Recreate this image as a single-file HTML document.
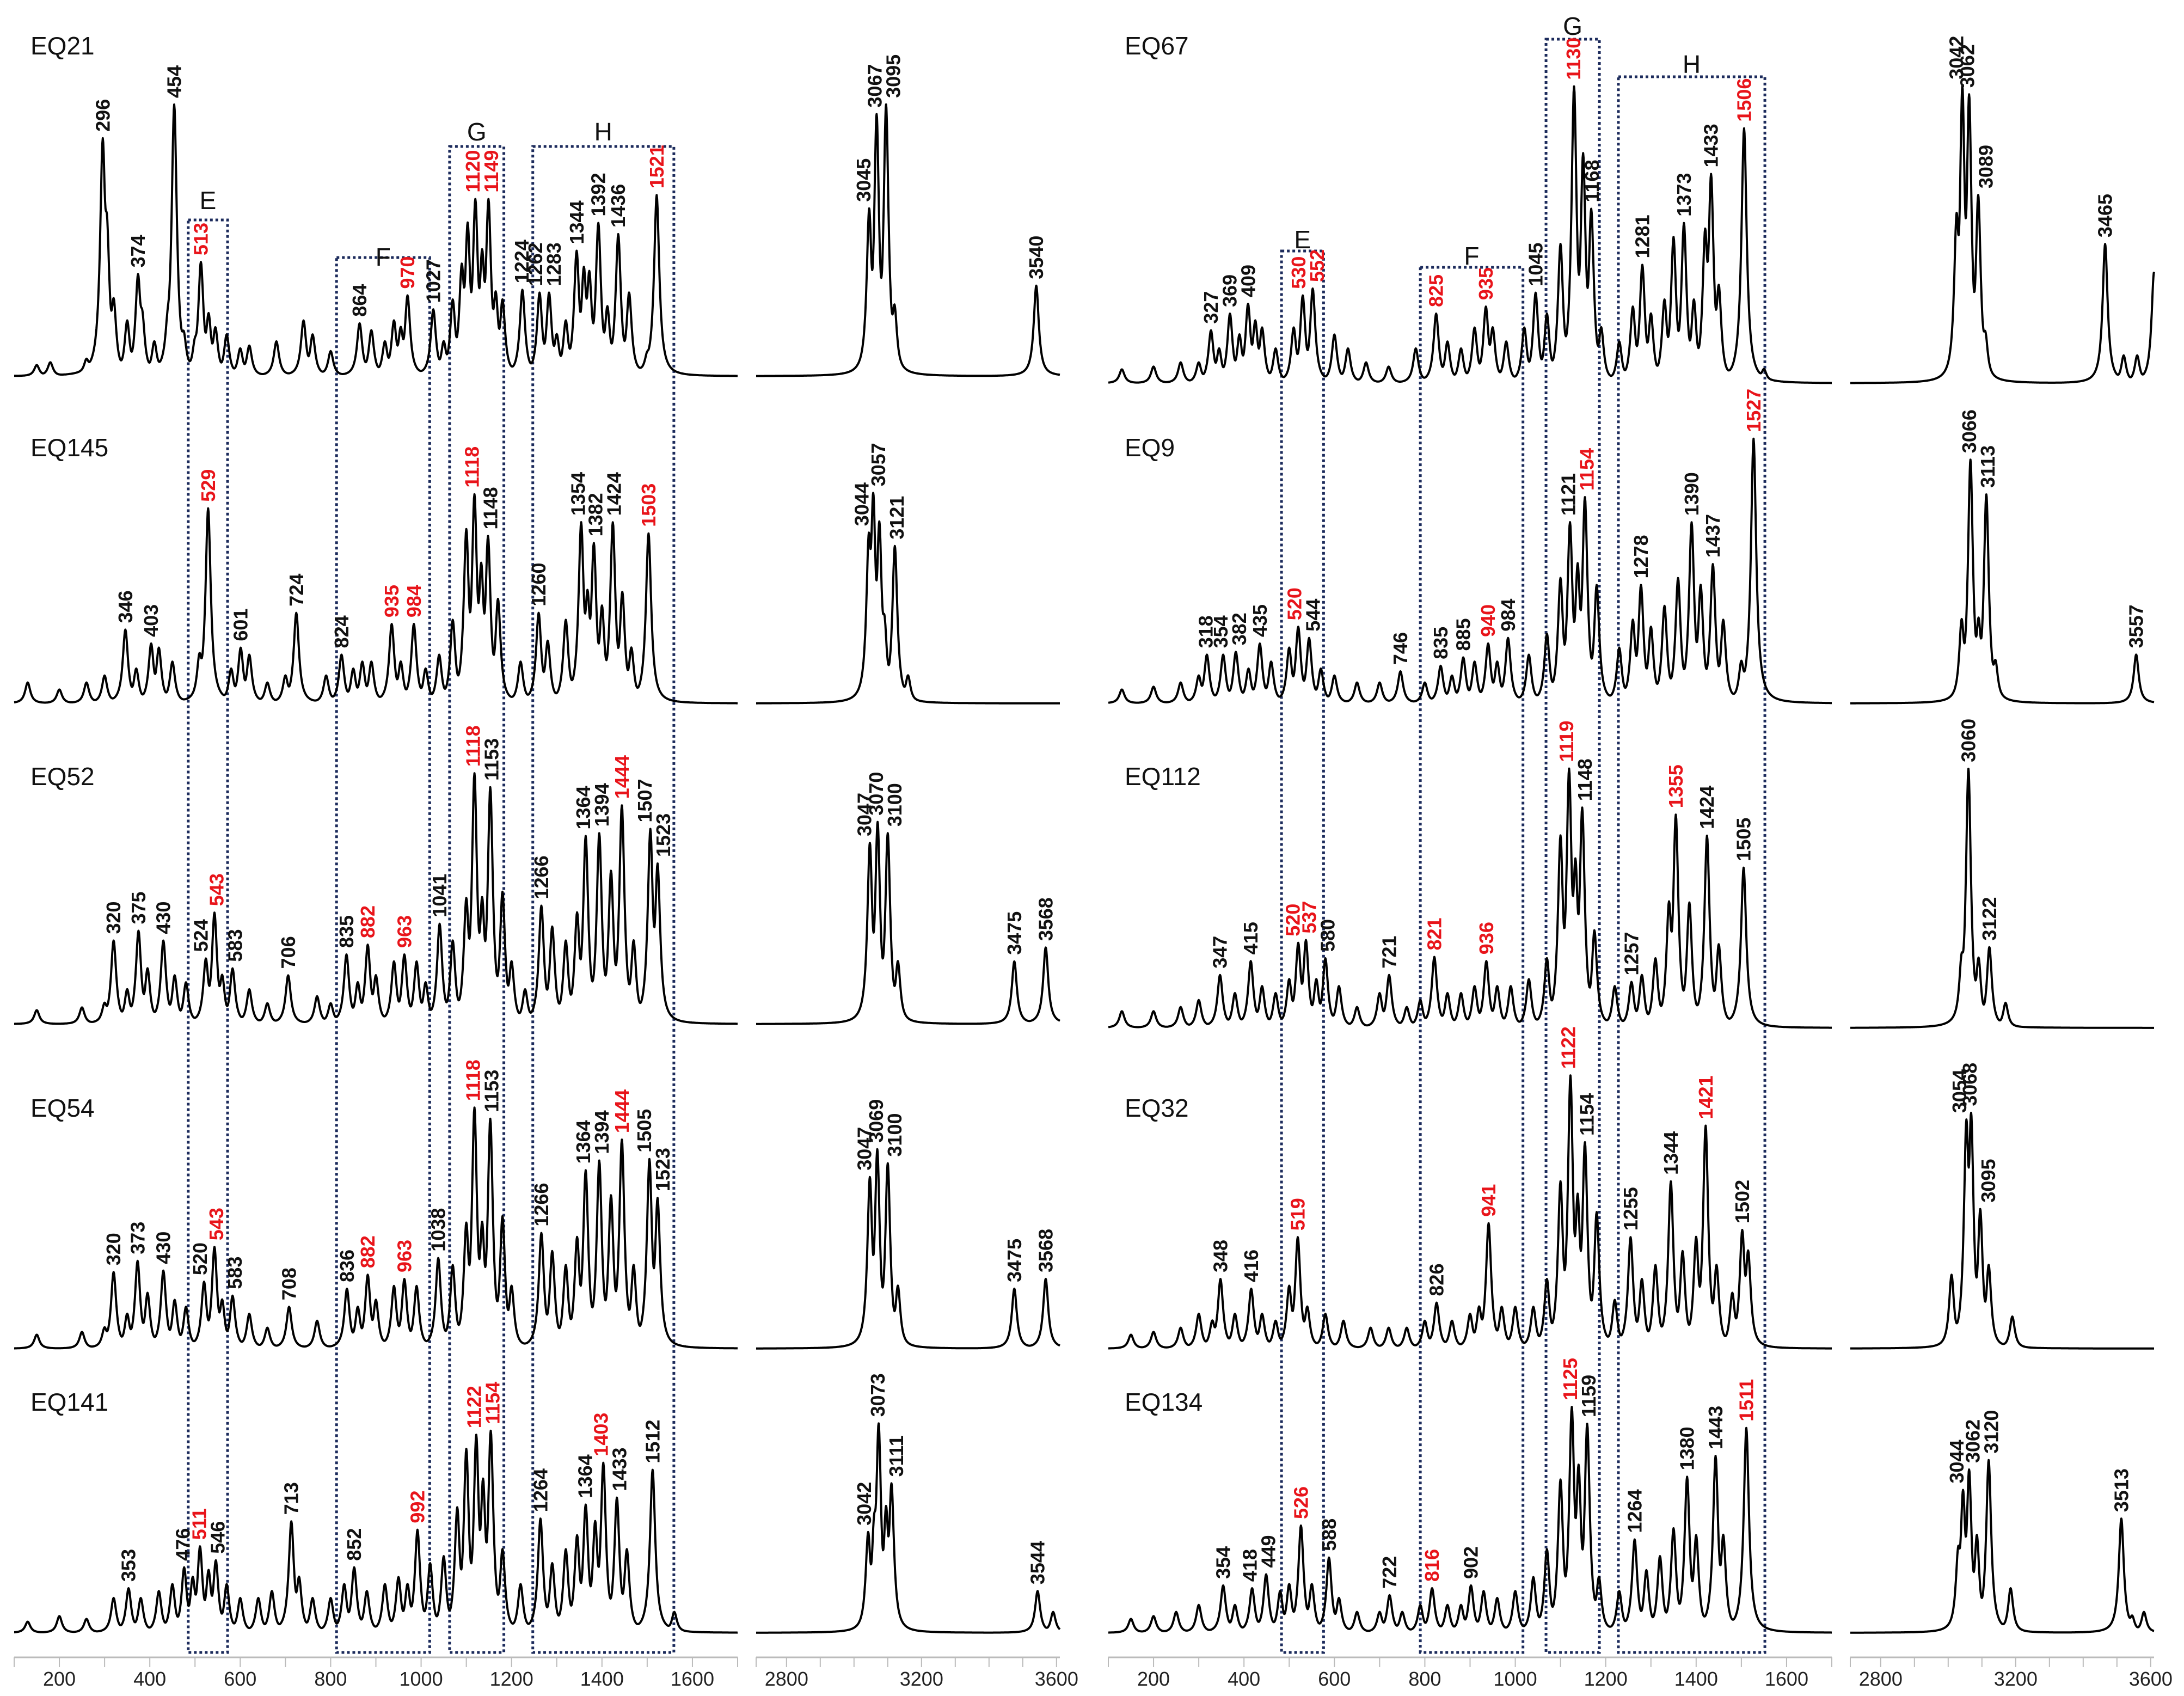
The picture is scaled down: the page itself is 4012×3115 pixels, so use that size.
<!DOCTYPE html>
<html><head><meta charset="utf-8"><style>
html,body{margin:0;padding:0;background:#fff}
svg{display:block}
text{font-family:"Liberation Sans",sans-serif}
</style></head><body>
<svg id="chart" xmlns="http://www.w3.org/2000/svg" width="4012" height="3115" viewBox="0 0 4012 3115"></svg>
<script>
// ---- data: peaks [wavenumber, relative intensity, labelType(0 none,1 black,2 red)]
const EQ21=[[150,8,0],[180,10,0],[260,12,0],[296,170,1],[305,110,0],[320,55,0],[350,40,0],[374,73,1],[383,45,0],[410,25,0],[440,40,0],[454,195,1],[475,30,0],[500,25,0],[513,82,2],[530,45,0],[545,35,0],[570,30,0],[600,20,0],[620,22,0],[680,25,0],[740,40,0],[760,30,0],[800,18,0],[864,38,1],[890,33,0],[920,25,0],[940,40,0],[955,35,0],[970,58,2],[1027,48,1],[1050,25,0],[1070,55,0],[1090,80,0],[1103,110,0],[1120,127,2],[1135,90,0],[1149,127,2],[1165,60,0],[1180,55,0],[1224,62,1],[1262,60,1],[1283,60,1],[1300,30,0],[1320,40,0],[1344,90,1],[1360,78,0],[1372,75,0],[1392,110,1],[1412,50,0],[1436,102,1],[1460,60,0],[1500,15,0],[1521,130,2],[3045,120,1],[3067,188,1],[3095,195,1],[3120,50,0],[3540,65,1]];
const EQ145=[[130,15,0],[200,10,0],[260,15,0],[300,20,0],[346,53,1],[370,25,0],[403,43,1],[420,40,0],[450,30,0],[510,35,0],[529,140,2],[580,25,0],[601,40,1],[620,35,0],[660,15,0],[700,20,0],[724,65,1],[790,20,0],[824,35,1],[850,25,0],[870,30,0],[890,30,0],[935,57,2],[955,30,0],[984,57,2],[1010,25,0],[1040,35,0],[1070,60,0],[1100,125,0],[1118,150,2],[1133,100,0],[1148,120,1],[1170,75,0],[1220,30,0],[1260,65,1],[1280,45,0],[1320,60,0],[1354,130,1],[1368,80,0],[1382,115,1],[1400,70,0],[1424,130,1],[1445,80,0],[1465,40,0],[1503,122,2],[3044,120,1],[3057,150,1],[3075,130,0],[3090,60,0],[3121,113,1],[3160,20,0]];
const EQ52=[[150,10,0],[250,12,0],[300,15,0],[320,60,1],[350,25,0],[375,67,1],[395,40,0],[430,60,1],[455,35,0],[480,30,0],[524,47,1],[543,80,2],[560,35,0],[583,40,1],[620,25,0],[660,15,0],[706,35,1],[770,20,0],[800,15,0],[835,50,1],[860,30,0],[882,57,2],[900,35,0],[940,45,0],[963,50,2],[990,45,0],[1010,30,0],[1041,72,1],[1070,60,0],[1100,90,0],[1118,180,2],[1135,90,0],[1153,170,1],[1180,95,0],[1200,45,0],[1230,25,0],[1266,85,1],[1290,70,0],[1320,60,0],[1345,80,0],[1364,135,1],[1394,137,1],[1420,110,0],[1444,157,2],[1470,60,0],[1507,140,1],[1523,115,1],[3047,130,1],[3070,145,1],[3100,137,1],[3130,45,0],[3475,45,1],[3568,55,1]];
const EQ54=[[150,10,0],[250,12,0],[300,15,0],[320,55,1],[350,25,0],[373,63,1],[395,40,0],[430,56,1],[455,35,0],[480,30,0],[520,48,1],[543,73,2],[560,35,0],[583,38,1],[620,25,0],[660,15,0],[708,30,1],[770,20,0],[836,43,1],[860,30,0],[882,53,2],[900,35,0],[940,45,0],[963,50,2],[990,45,0],[1038,65,1],[1070,60,0],[1100,90,0],[1118,173,2],[1135,90,0],[1153,165,1],[1180,95,0],[1200,45,0],[1266,83,1],[1290,70,0],[1320,60,0],[1345,80,0],[1364,128,1],[1394,135,1],[1420,110,0],[1444,150,2],[1470,60,0],[1505,136,1],[1523,108,1],[3047,123,1],[3069,143,1],[3100,133,1],[3130,45,0],[3475,43,1],[3568,50,1]];
const EQ141=[[130,8,0],[200,12,0],[260,10,0],[320,25,0],[353,32,1],[380,25,0],[420,30,0],[450,35,0],[476,47,1],[495,40,0],[511,62,2],[530,45,0],[546,52,1],[570,35,0],[600,25,0],[640,25,0],[670,30,0],[713,80,1],[730,40,0],[760,25,0],[800,25,0],[830,35,0],[852,47,1],[880,30,0],[920,35,0],[950,40,0],[970,35,0],[992,74,2],[1020,50,0],[1050,55,0],[1080,90,0],[1100,132,0],[1122,142,2],[1137,110,0],[1154,145,2],[1180,60,0],[1220,35,0],[1264,82,1],[1290,50,0],[1320,60,0],[1345,70,0],[1364,92,1],[1385,80,0],[1403,122,2],[1433,97,1],[1455,60,0],[1512,117,1],[1560,15,0],[3042,72,1],[3060,80,0],[3073,150,1],[3095,90,0],[3111,107,1],[3544,30,1],[3590,15,0]];
const EQ67=[[130,10,0],[200,12,0],[260,15,0],[300,15,0],[327,38,1],[345,25,0],[369,50,1],[390,35,0],[409,57,1],[425,45,0],[440,40,0],[470,25,0],[510,40,0],[530,63,2],[552,68,2],[600,35,0],[630,25,0],[670,15,0],[720,12,0],[780,25,0],[825,50,2],[850,30,0],[880,25,0],[910,40,0],[935,55,2],[950,40,0],[980,30,0],[1020,40,0],[1045,65,1],[1070,50,0],[1100,100,0],[1130,213,2],[1150,165,0],[1168,125,1],[1190,40,0],[1230,30,0],[1260,55,0],[1281,85,1],[1300,50,0],[1330,60,0],[1350,105,0],[1373,115,1],[1395,60,0],[1420,110,0],[1433,150,1],[1450,70,0],[1506,183,2],[1550,10,0],[3025,120,0],[3042,213,1],[3062,207,1],[3089,135,1],[3110,35,0],[3465,100,1],[3520,20,0],[3560,20,0],[3610,80,0]];
const EQ9=[[130,10,0],[200,12,0],[260,15,0],[300,20,0],[318,35,1],[354,35,1],[382,37,1],[410,25,0],[435,43,1],[460,30,0],[500,40,0],[520,55,2],[544,47,1],[570,25,0],[600,20,0],[650,15,0],[700,15,0],[746,23,1],[800,15,0],[835,27,1],[860,20,0],[885,33,1],[910,30,0],[940,43,2],[960,30,0],[984,47,1],[1030,35,0],[1070,50,0],[1100,90,0],[1121,130,1],[1138,100,0],[1154,148,2],[1180,85,0],[1230,40,0],[1260,60,0],[1278,85,1],[1300,55,0],[1330,70,0],[1360,90,0],[1390,130,1],[1410,85,0],[1437,100,1],[1460,60,0],[1500,30,0],[1527,190,2],[3040,60,0],[3066,175,1],[3090,60,0],[3113,150,1],[3140,30,0],[3557,35,1]];
const EQ112=[[130,12,0],[200,12,0],[260,15,0],[300,20,0],[347,38,1],[380,25,0],[415,48,1],[440,30,0],[470,25,0],[500,35,0],[520,61,2],[537,63,2],[560,35,0],[580,50,1],[610,30,0],[650,15,0],[700,25,0],[721,38,1],[760,15,0],[790,20,0],[821,51,2],[850,25,0],[880,25,0],[910,30,0],[936,48,2],[960,30,0],[990,30,0],[1030,35,0],[1070,50,0],[1100,138,0],[1119,186,2],[1133,120,0],[1148,158,1],[1175,70,0],[1220,30,0],[1257,33,1],[1280,38,0],[1310,50,0],[1340,90,0],[1355,153,2],[1385,90,0],[1424,138,1],[1450,60,0],[1505,115,1],[3040,50,0],[3060,186,1],[3090,50,0],[3122,58,1],[3170,18,0]];
const EQ32=[[150,10,0],[200,12,0],[260,15,0],[300,25,0],[330,20,0],[348,50,1],[380,25,0],[416,43,1],[440,25,0],[470,20,0],[500,45,0],[519,80,2],[540,30,0],[580,25,0],[620,20,0],[680,15,0],[720,15,0],[760,15,0],[800,20,0],[826,33,1],[860,20,0],[900,25,0],[920,30,0],[941,90,2],[970,30,0],[1000,30,0],[1040,30,0],[1070,50,0],[1100,120,0],[1122,196,2],[1138,110,0],[1154,148,1],[1180,98,0],[1220,35,0],[1255,80,1],[1280,50,0],[1310,60,0],[1344,120,1],[1370,70,0],[1400,80,0],[1421,160,2],[1445,60,0],[1480,40,0],[1502,85,1],[1515,70,0],[3010,53,0],[3054,163,1],[3068,168,1],[3095,100,1],[3120,60,0],[3190,23,0]];
const EQ134=[[150,10,0],[200,12,0],[250,15,0],[300,20,0],[354,34,1],[380,20,0],[418,32,1],[449,42,1],[480,30,0],[500,35,0],[526,77,2],[550,35,0],[588,54,1],[610,25,0],[650,15,0],[700,15,0],[722,27,1],[750,15,0],[790,20,0],[816,32,2],[850,20,0],[880,20,0],[902,34,1],[930,30,0],[960,25,0],[1000,30,0],[1040,40,0],[1070,60,0],[1100,110,0],[1125,162,2],[1140,120,0],[1159,150,1],[1185,40,0],[1230,30,0],[1264,67,1],[1290,45,0],[1320,55,0],[1350,75,0],[1380,112,1],[1400,70,0],[1443,127,1],[1460,70,0],[1511,147,2],[3030,60,0],[3044,102,1],[3062,117,1],[3085,70,0],[3120,124,1],[3185,32,0],[3513,82,1],[3545,12,0],[3580,15,0]];
const spectraNames=["EQ21","EQ145","EQ52","EQ54","EQ141","EQ67","EQ9","EQ112","EQ32","EQ134"];
const spectraPeaks=[EQ21,EQ145,EQ52,EQ54,EQ141,EQ67,EQ9,EQ112,EQ32,EQ134];
const lowTicks=[200,400,600,800,1000,1200,1400,1600];
const highTicks=[2800,3200,3600];
const boxLetters=["E","F","G","H"];
const boxRangesLeft=[[485,572],[813,1019],[1063,1183],[1247,1559]];
const boxRangesRight=[[483,576],[790,1017],[1068,1186],[1228,1552]];

// ---- layout
const NS="http://www.w3.org/2000/svg";
const svg=document.getElementById('chart');
const panelOff=[0,2010];
const baseLeft=[691,1292,1881,2477,2999], baseRight=[704,1292,1888,2477,2999];
const nameY=[100,838,1442,2051,2591];
const scaleY=2.559;
const boxTopsLeft=[404,473,269,269], boxTopsRight=[461,491,72,141];
const boxLetterYLeft=[368,472,242,242], boxLetterYRight=[440,470,48,118];
const axisY=3044;
function xLow(v,p){return panelOff[p]+26+(v-100)*(1329/1600);}
function xHigh(v,p){return panelOff[p]+1389+(v-2710)*(558/900);}
function mk(tag,attrs,parent){const e=document.createElementNS(NS,tag);for(const k in attrs)e.setAttribute(k,attrs[k]);(parent||svg).appendChild(e);return e;}
function intensity(peaks,v,hw){let s=0;for(const p of peaks){const d=(v-p[0])/hw;const a=p[1]/(1+d*d);s+=a*a*a;}return Math.cbrt(s);}

// boxes
[boxRangesLeft,boxRangesRight].forEach((ranges,p)=>{
  const tops=p?boxTopsRight:boxTopsLeft, ly=p?boxLetterYRight:boxLetterYLeft;
  ranges.forEach((r,i)=>{
    const x1=xLow(r[0],p),x2=xLow(r[1],p);
    const b=mk('rect',{x:x1,y:tops[i],width:x2-x1,height:3035-tops[i],fill:'none',stroke:'#1c2b5c','stroke-width':5,'stroke-dasharray':'5,5'});
    
    
    const t=mk('text',{x:(x1+x2)/2,y:ly[i]+16,'font-size':46,'text-anchor':'middle',fill:'#111'});
    t.textContent=boxLetters[i];
    
    
  });
});

// spectra
spectraNames.forEach((name,si)=>{
  const p=si<5?0:1, row=si%5;
  const base=(p?baseRight:baseLeft)[row];
  const peaks=spectraPeaks[si];
  const lowP=peaks.filter(q=>q[0]<2000), highP=peaks.filter(q=>q[0]>2000);
  const HWL=7, HWH=9;
  const g=mk('g',{});
  
  
  let d='';
  for(let v=100;v<=1700;v+=1){const y=base-scaleY*intensity(lowP,v,HWL);d+=(v===100?'M':'L')+xLow(v,p).toFixed(1)+','+y.toFixed(1);}
  const l1=mk('path',{d:d,fill:'none',stroke:'#000','stroke-width':4,'stroke-linejoin':'round'},g);
  
  
  d='';
  for(let v=2710;v<=3610;v+=1){const y=base-scaleY*intensity(highP,v,HWH);d+=(v===2710?'M':'L')+xHigh(v,p).toFixed(1)+','+y.toFixed(1);}
  const l2=mk('path',{d:d,fill:'none',stroke:'#000','stroke-width':4,'stroke-linejoin':'round'},g);
  
  
  // label placement with simple left-to-right de-overlap
  const labs=peaks.filter(q=>q[2]).map(q=>{
    const hi=q[0]>2000;
    return {q:q,x:hi?xHigh(q[0],p):xLow(q[0],p),top:base-scaleY*intensity(hi?highP:lowP,q[0],hi?HWH:HWL)};
  });
  for(let i=1;i<labs.length;i++){if(labs[i].x-labs[i-1].x<34){const mid=(labs[i].x+labs[i-1].x)/2;labs[i-1].x=Math.min(labs[i-1].x,mid-17);labs[i].x=labs[i-1].x+34;}}
  labs.forEach(L=>{
    const t=mk('text',{transform:'translate('+L.x.toFixed(1)+','+(L.top-12).toFixed(1)+') rotate(-90)','font-size':36,'font-weight':'bold','dominant-baseline':'central',fill:L.q[2]===2?'#e8141a':'#111'},g);
    t.textContent=String(L.q[0]);
    
    
  });
  const nt=mk('text',{x:panelOff[p]+56,y:nameY[row],'font-size':46,fill:'#111'});
  nt.textContent=name;
  
  
});

// axes
[0,1].forEach(p=>{
  const ax=mk('g',{});
  
  
  mk('line',{x1:xLow(100,p),x2:xLow(1700,p),y1:axisY,y2:axisY,stroke:'#bbb','stroke-width':3},ax);
  mk('line',{x1:xHigh(2710,p),x2:xHigh(3610,p),y1:axisY,y2:axisY,stroke:'#bbb','stroke-width':3},ax);
  for(let v=100;v<=1700;v+=100)mk('line',{x1:xLow(v,p),x2:xLow(v,p),y1:axisY,y2:axisY+18,stroke:'#bbb','stroke-width':2},ax);
  for(let v=2800;v<=3600;v+=100)mk('line',{x1:xHigh(v,p),x2:xHigh(v,p),y1:axisY,y2:axisY+18,stroke:'#bbb','stroke-width':2},ax);
  mk('line',{x1:xHigh(2710,p),x2:xHigh(2710,p),y1:axisY,y2:axisY+18,stroke:'#bbb','stroke-width':2},ax);
  lowTicks.forEach(v=>{const t=mk('text',{x:xLow(v,p),y:axisY+52,'font-size':36,'text-anchor':'middle',fill:'#222'},ax);t.textContent=v;
    
    });
  highTicks.forEach(v=>{const t=mk('text',{x:xHigh(v,p),y:axisY+52,'font-size':36,'text-anchor':'middle',fill:'#222'},ax);t.textContent=v;
    
    });
});
</script>
</body></html>
